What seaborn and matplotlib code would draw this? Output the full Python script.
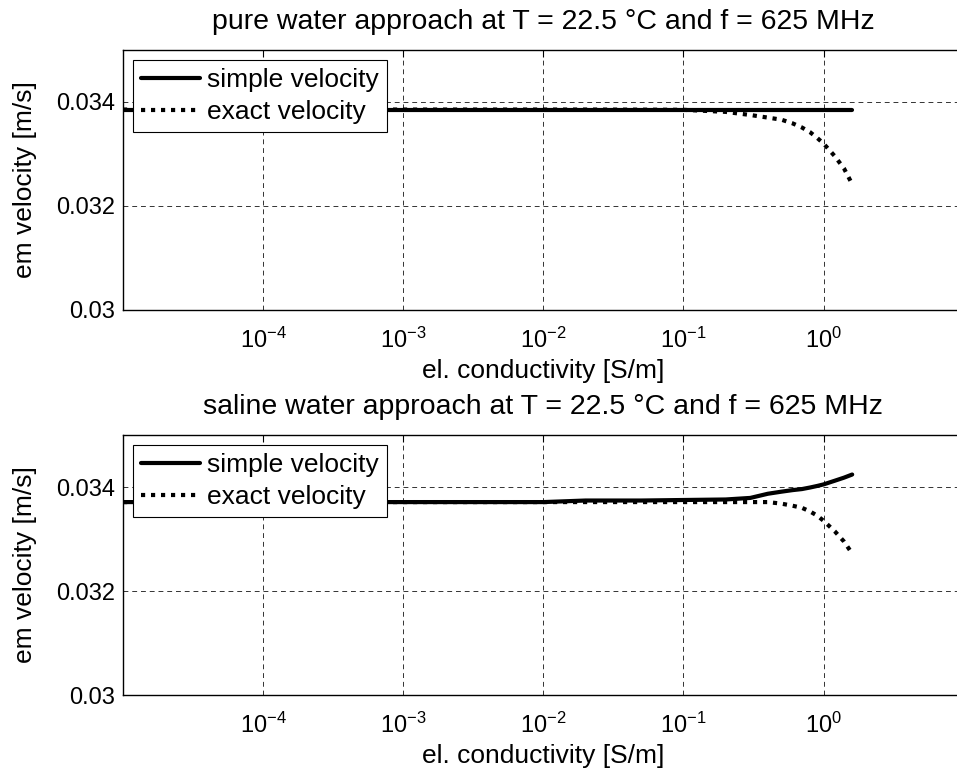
import numpy as np
import pandas as pd
import matplotlib
matplotlib.use("Agg")
import matplotlib.pyplot as plt
import seaborn as sns
from matplotlib.ticker import FixedLocator, LogFormatterMathtext, FixedFormatter

# ---- data ----
conductivity = [1e-5, 1e-3, 1e-2, 0.02, 0.05, 0.1, 0.2, 0.3, 0.4, 0.5,
                0.6, 0.7, 0.8, 0.9, 1.0, 1.2, 1.4, 1.6]
pure_simple = [0.033855] * 18
pure_exact = [0.033855, 0.033855, 0.033855, 0.033855, 0.033853, 0.03385,
              0.03381, 0.03375, 0.03370, 0.03366, 0.03359, 0.03351,
              0.03342, 0.03331, 0.03320, 0.03296, 0.03272, 0.03242]
saline_simple = [0.03371, 0.03371, 0.03371, 0.03374, 0.03374, 0.03375,
                 0.03376, 0.03379, 0.03387, 0.03391, 0.03394, 0.03396,
                 0.03399, 0.03402, 0.03405, 0.03412, 0.03418, 0.03424]
saline_exact = [0.03371, 0.03371, 0.03371, 0.03371, 0.03371, 0.03371,
                0.03371, 0.03371, 0.03371, 0.03368, 0.03364, 0.03360,
                0.03353, 0.03345, 0.03335, 0.03315, 0.03295, 0.03272]

titles = ["pure water approach at T = 22.5 °C and f = 625 MHz",
          "saline water approach at T = 22.5 °C and f = 625 MHz"]
xlabel = "el. conductivity [S/m]"
ylabel = "em velocity [m/s]"
legend_labels = ["simple velocity", "exact velocity"]
xticks = [1e-4, 1e-3, 1e-2, 1e-1, 1e0]
yticks = [0.030, 0.032, 0.034]
ytick_labels = ["0.03", "0.032", "0.034"]

sns.set_style("white")
plt.rcParams['font.family'] = ['Liberation Sans', 'DejaVu Sans']
plt.rcParams['mathtext.fontset'] = 'custom'
plt.rcParams['mathtext.rm'] = 'Liberation Sans'
plt.rcParams['mathtext.it'] = 'Liberation Sans:italic'
plt.rcParams['mathtext.bf'] = 'Liberation Sans:bold'
plt.rcParams['text.color'] = 'black'
plt.rcParams['axes.labelcolor'] = 'black'
FS_TICK = 17
FS_TITLE = 20.5
FS_LABEL = 19
FS_LEG = 19

fig = plt.figure(figsize=(9.57, 7.71), dpi=100)
W, H = 957, 771
left, right = 123, 963.7
positions = [(50, 310), (435, 695)]

series = [(pure_simple, pure_exact), (saline_simple, saline_exact)]

for i, ((top, bot), (s, e)) in enumerate(zip(positions, series)):
    ax = fig.add_axes([left / W, 1 - bot / H, (right - left) / W, (bot - top) / H])
    df = pd.DataFrame({"x": conductivity, "simple": s, "exact": e})
    sns.lineplot(data=df, x="x", y="simple", ax=ax, color="black",
                 linewidth=3.0, label=legend_labels[0], zorder=3)
    sns.lineplot(data=df, x="x", y="exact", ax=ax, color="black",
                 linewidth=3.0, label=legend_labels[1], zorder=4)
    ax.lines[1].set_dashes([1.0, 1.4])
    ax.lines[1].set_dash_capstyle('butt')
    ax.set_xscale("log")
    ax.set_xlim(1e-5, 1e1)
    ax.set_ylim(0.030, 0.035)
    ax.xaxis.set_major_locator(FixedLocator(xticks))
    ax.xaxis.set_major_formatter(LogFormatterMathtext())
    ax.xaxis.set_minor_locator(FixedLocator([]))
    ax.yaxis.set_major_locator(FixedLocator(yticks))
    ax.yaxis.set_major_formatter(FixedFormatter(ytick_labels))
    ax.tick_params(direction="in", length=5, width=0.8, top=True, right=True,
                   labelsize=FS_TICK, colors="black", pad=6)
    ax.tick_params(axis="x", pad=13)
    ax.grid(True, which="major", color="#333333", linestyle=(0, (5, 4)),
            linewidth=0.7, zorder=0)
    for sp in ax.spines.values():
        sp.set_color("black")
        sp.set_linewidth(1.0)
    ax.set_xlabel(xlabel, fontsize=FS_LABEL, labelpad=4)
    ax.set_ylabel(ylabel, fontsize=FS_LABEL)
    ax.yaxis.set_label_coords(-0.102, 0.5)
    ax.set_title(titles[i], fontsize=FS_TITLE, pad=15, color="black")
    leg = ax.legend(loc="upper left", fontsize=FS_LEG, frameon=True, fancybox=False,
                    edgecolor="black", framealpha=1.0, borderpad=0.3,
                    handlelength=2.25, handletextpad=0.25, labelspacing=0.3,
                    borderaxespad=0.38)
    leg.get_frame().set_linewidth(0.8)
    for t in leg.get_texts():
        t.set_color("black")
    leg.get_lines()[1].set_dashes([1.0, 1.4])

fig.savefig("out.png", dpi=100)
